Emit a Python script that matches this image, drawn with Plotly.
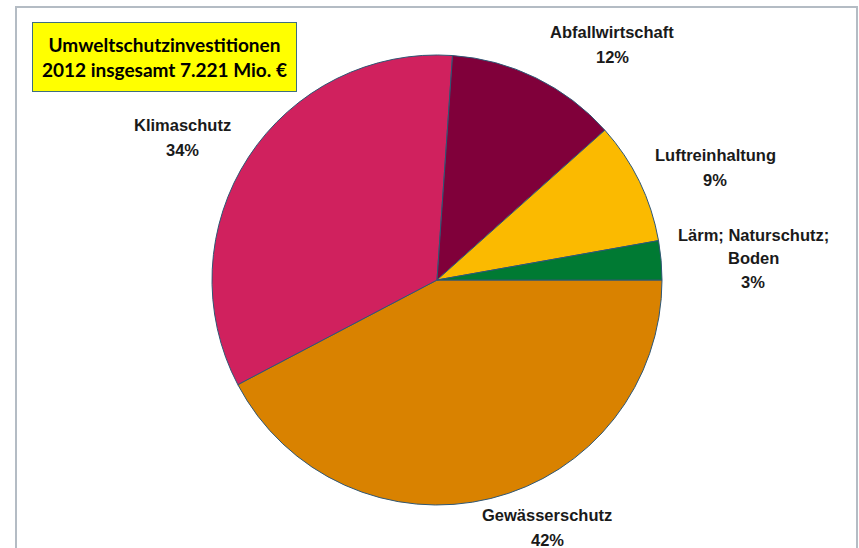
import plotly.graph_objects as go

# Data (percent shares of 7.221 Mio. € total)
categories = ["Gewässerschutz", "Klimaschutz", "Abfallwirtschaft", "Luftreinhaltung", "Lärm; Naturschutz; Boden"]
shares = [42.3, 33.8, 12.3, 8.8, 2.8]
colors = ["#D98200", "#D0215E", "#80003A", "#FBBA00", "#007A33"]
title_lines = ["Umweltschutzinvestitionen", "2012 insgesamt 7.221 Mio. €"]

W, H = 859, 548
ML, MR, MT, MB = 16, 2, 7, 0
PW, PH = W - ML - MR, H - MT - MB


def px(x):
    return (x - ML) / PW


def py(y):
    return 1 - (y - MT) / PH


cx, cy, r = 437, 280, 225

fig = go.Figure()
fig.add_trace(go.Pie(
    labels=categories,
    values=shares,
    marker=dict(colors=colors, line=dict(color="#2F5775", width=1)),
    sort=False,
    direction="clockwise",
    rotation=90,
    textinfo="none",
    hoverinfo="label+percent",
    showlegend=False,
    domain=dict(x=[px(cx - r), px(cx + r)], y=[py(cy + r), py(cy - r)]),
))

label_font = dict(family="Liberation Sans, Arial, sans-serif", size=16.5, color="#1a1a1a")

pct = [f"{round(v)}%" for v in shares]
label_specs = [
    ([categories[0], pct[0]], 547, [515, 540]),
    ([categories[1], pct[1]], 182, [125, 150]),
    ([categories[2], pct[2]], 612, [32, 57]),
    ([categories[3], pct[3]], 715, [155, 180]),
    (["Lärm; Naturschutz;", "Boden", pct[4]], 753, [235, 258, 282]),
]

annotations = []
for lines, x, ys in label_specs:
    for t, y in zip(lines, ys):
        annotations.append(dict(
            x=px(x), y=py(y), xref="paper", yref="paper",
            text=f"<b>{t}</b>", showarrow=False,
            xanchor="center", yanchor="middle", font=label_font,
        ))

# title box
annotations.append(dict(
    x=px((32 + 297) / 2), y=py((22 + 92) / 2), xref="paper", yref="paper",
    text="<b>" + "<br>".join(title_lines) + "</b>", showarrow=False,
    xanchor="center", yanchor="middle",
    font=dict(family="Lato, Carlito, sans-serif", size=19, color="#000000"),
    bgcolor="#FFFF00", bordercolor="#3F6F7F", borderwidth=1, borderpad=3,
    width=257, height=62, align="center",
))

fig.update_layout(
    width=W, height=H,
    margin=dict(l=ML, r=MR, t=MT, b=MB),
    paper_bgcolor="white", plot_bgcolor="white",
    annotations=annotations,
    shapes=[dict(type="rect", xref="paper", yref="paper", x0=0, x1=1, y0=-0.05, y1=1,
                 line=dict(color="#B4BCC4", width=2), fillcolor="rgba(0,0,0,0)", layer="below")],
)

fig.write_html("out.html")
